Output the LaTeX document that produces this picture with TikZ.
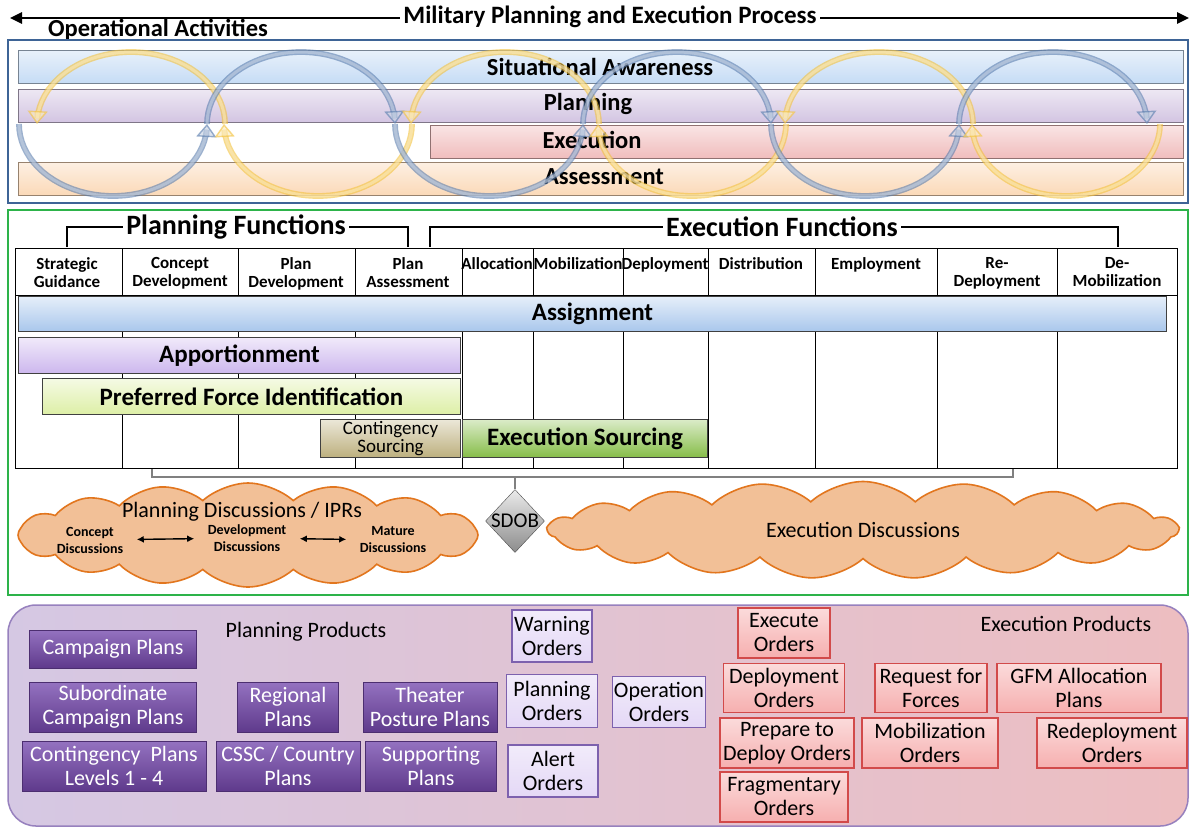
\documentclass[tikz,border=0pt]{standalone}
\usepackage{fontspec}
\setmainfont{Carlito}
\usetikzlibrary{shapes.geometric,shapes.symbols,arrows.meta}

\definecolor{boxblue}{HTML}{3E6496}
\definecolor{framegreen}{HTML}{2DB34A}
\definecolor{arcblue}{HTML}{5A7DAE}
\definecolor{arcyellow}{HTML}{F3C23C}
\definecolor{sacol}{HTML}{C6DCF5}
\definecolor{plcol}{HTML}{D3C5E2}
\definecolor{excol}{HTML}{F0BDBD}
\definecolor{ascol}{HTML}{FBD9B8}
\definecolor{asgcol}{HTML}{A9C7EC}
\definecolor{appcol}{HTML}{CDB7EE}
\definecolor{pficol}{HTML}{DDEFA6}
\definecolor{csrccol}{HTML}{BDB07E}
\definecolor{esrccol}{HTML}{86BD48}
\definecolor{cloudfill}{HTML}{F2C097}
\definecolor{cloudline}{HTML}{E2761E}
\definecolor{planlight}{HTML}{9472C0}
\definecolor{plandark}{HTML}{5F3A8C}
\definecolor{orderlight}{HTML}{E4D8F6}
\definecolor{orderline}{HTML}{7D61AE}
\definecolor{execpink}{HTML}{F6AFAF}
\definecolor{execline}{HTML}{D24A4A}

\tikzset{
  bartxt/.style={font=\bfseries\fontsize{24.5}{26}\selectfont},
  actbar/.style={draw=#1!60!black, top color=#1!40, bottom color=#1, minimum height=33pt, inner sep=0pt, anchor=north west},
  arcflow/.style={draw=#1, double=#1!35, double distance=3pt, line width=1.4pt, opacity=.6, -{Triangle[open, width=20pt, length=13pt, line width=1.4pt, fill=#1!35]}},
  fnhead/.style={font=\bfseries\fontsize{28}{30}\selectfont},
  colhead/.style={font=\bfseries\fontsize{17}{18}\selectfont, align=center, anchor=north, inner sep=0pt},
  fnbar/.style={draw=black!75, line width=1pt, top color=#1!30, bottom color=#1, inner sep=0pt, anchor=north west, font=\bfseries\fontsize{25}{27}\selectfont},
  puff/.style={cloud, cloud puffs=#1, cloud puff arc=85, cloud ignores aspect, draw=cloudline, fill=cloudfill, line width=1.6pt, font=\fontsize{22}{24}\selectfont},
  disc/.style={font=\bfseries\fontsize{14}{17}\selectfont, align=center},
  planprod/.style={draw=plandark!80!black, top color=planlight, bottom color=plandark, text=white, font=\fontsize{22}{24}\selectfont, align=center, inner sep=0pt},
  orderbox/.style={draw=orderline, line width=1.2pt, top color=orderlight!50, bottom color=orderlight, font=\fontsize{22}{24}\selectfont, align=center, inner sep=0pt},
  execbox/.style={draw=execline, line width=1.2pt, top color=execpink!45, bottom color=execpink, font=\fontsize{22}{24}\selectfont, align=center, inner sep=0pt},
  prodlabel/.style={font=\fontsize{22}{24}\selectfont}
}

\begin{document}
\begin{tikzpicture}[x=1pt,y=-1pt]
  \fill[white] (0,0) rectangle (1190,827);
  \useasboundingbox (0,0) rectangle (1190,827);

  % process arrow
  \node[font=\bfseries\fontsize{25}{27}\selectfont] at (610,17) (mpep) {Military Planning and Execution Process};
  \coordinate (mpepL) at (10,18);
  \coordinate (mpepR) at (1189,18);
  \draw[line width=2.5pt, -{Triangle[length=12pt,width=11pt]}] (mpep.west |- mpepL) -- (mpepL);
  \draw[line width=2.5pt, -{Triangle[length=12pt,width=11pt]}] (mpep.east |- mpepR) -- (mpepR);
  \node[font=\bfseries\fontsize{24.5}{26}\selectfont] at (158,30) (opact) {Operational Activities};

  % operational activities
  \draw[boxblue, line width=2pt] (8,40) rectangle (1188,203);
  \node[actbar=sacol, minimum width=1165pt] at (18,50) (sabar) {};
  \node[actbar=plcol, minimum width=1165pt] at (18,89) (plbar) {};
  \node[actbar=excol, minimum width=753pt] at (430,125) (exbar) {};
  \node[actbar=ascol, minimum width=1165pt] at (18,162) (asbar) {};
  \node[bartxt] at (600,67) (satxt) {Situational Awareness};
  \node[bartxt] at (588,104) (pltxt) {Planning};
  \node[bartxt] at (592,140) (extxt) {Execution};
  \node[bartxt] at (604,177) (astxt) {Assessment};
  \foreach \i in {0,...,5} {
    \pgfmathsetmacro{\s}{ifthenelse(mod(\i,2)==0,1,-1)}
    \draw[arcflow=arcblue] plot[domain=0:180, samples=40, variable=\t] ({113+188*\i-94*cos(\t)}, {124+\s*72*sin(\t)});
    \draw[arcflow=arcyellow] plot[domain=0:180, samples=40, variable=\t] ({131+187*\i+94*cos(\t)}, {124-\s*72*sin(\t)});
  }

  % functions
  \draw[framegreen, line width=2pt] (8,210) rectangle (1188,595);
  \node[fnhead] at (236,227) (planfn) {Planning Functions};
  \node[fnhead] at (782,227) (execfn) {Execution Functions};
  \coordinate (planfnL) at (67,247);
  \coordinate (planfnR) at (408,247);
  \coordinate (execfnL) at (430,247);
  \coordinate (execfnR) at (1118,247);
  \draw[line width=2.5pt] (planfnL) |- (planfn.west);
  \draw[line width=2.5pt] (planfn.east) -| (planfnR);
  \draw[line width=2.5pt] (execfnL) |- (execfn.west);
  \draw[line width=2.5pt] (execfn.east) -| (execfnR);

  \draw[line width=1pt] (15,248) rectangle (1177,468);
  \draw[line width=1pt] (15,295) -- (1177,295);
  \foreach \x in {122,238,355,462,533,623,708,815,937,1057} \draw[line width=1pt] (\x,248) -- (\x,468);
  \foreach \x/\t/\n in {67/{Strategic\\Guidance}/sg, 180/{Concept\\Development}/cd, 296/{Plan\\Development}/pd, 408/{Plan\\Assessment}/pa,
    497/Allocation/alc, 578/Mobilization/mob, 665/Deployment/dep, 761/Distribution/dis, 876/Employment/emp,
    997/{Re-\\Deployment}/rdep, 1117/{De-\\Mobilization}/dmob}
    \node[colhead] at (\x,257) (\n) {\t};

  \node[fnbar=asgcol, minimum width=1148pt, minimum height=35pt] at (18,296) (assign) {Assignment};
  \node[fnbar=appcol, minimum width=442pt, minimum height=36pt] at (18,337) (apport) {Apportionment};
  \node[fnbar=pficol, minimum width=418pt, minimum height=36pt] at (42,378) (pfi) {Preferred Force Identification};
  \node[fnbar=csrccol, minimum width=140pt, minimum height=38pt, font=\fontsize{19}{14}\selectfont, align=center] at (320,419) (csrc) {Contingency\\Sourcing};
  \node[fnbar=esrccol, minimum width=245pt, minimum height=38pt] at (462,419) (esrc) {Execution Sourcing};

  % discussions
  \coordinate (sdobL) at (152,469);
  \coordinate (sdobR) at (1013,469);
  \coordinate (sdobM) at (515,477);
  \draw[gray, line width=1.5pt] (sdobL) -- ++(0,8) -| (sdobR);
  \node[puff=16, minimum width=460pt, minimum height=104pt] at (248,535) (plancloud) {};
  \node[puff=19, minimum width=630pt, minimum height=97pt] at (863,530) (execcloud) {Execution Discussions};
  \node[diamond, draw=black!70, top color=black!8, bottom color=black!45, minimum width=59pt, minimum height=63pt, inner xsep=-6pt, inner ysep=-2pt, font=\fontsize{21}{22}\selectfont] at (515,521) (sdob) {SDOB};
  \draw[gray, line width=1.5pt] (sdobM) -- (sdob);
  \node[font=\fontsize{22}{24}\selectfont] at (242,512) (pdisc) {Planning Discussions / IPRs};
  \node[disc] at (90,540) (cdisc) {Concept\\Discussions};
  \node[disc] at (247,538) (ddisc) {Development\\Discussions};
  \node[disc] at (393,540) (mdisc) {Mature\\Discussions};
  \draw[line width=1.4pt, {Latex[length=7pt,width=7pt]}-{Latex[length=7pt,width=7pt]}, shorten <=10pt, shorten >=10pt] (cdisc) -- (ddisc);
  \draw[line width=1.4pt, {Latex[length=7pt,width=7pt]}-{Latex[length=7pt,width=7pt]}, shorten <=10pt, shorten >=10pt] (ddisc) -- (mdisc);

  % products
  \draw[rounded corners=28pt, left color=plcol!95!white, right color=excol!90!plcol, draw=orderline!80, line width=1.5pt] (8,605) rectangle (1188,826);
  \node[prodlabel] at (306,632) (planprodlbl) {Planning Products};
  \node[prodlabel] at (1066,624) (execprodlbl) {Execution Products};
  \foreach \x/\y/\w/\h/\n/\t in {113/649/167/38/camp/{Campaign Plans}, 113/707/167/50/subcamp/{Subordinate\\Campaign Plans},
    288/707/101/50/regional/{Regional\\Plans}, 430/707/134/50/theater/{Theater\\Posture Plans},
    114/766/184/50/contin/{Contingency~ Plans\\Levels 1 - 4}, 288/766/144/50/cssc/{CSSC / Country\\Plans},
    431/766/131/50/support/{Supporting\\Plans}}
    \node[planprod, minimum width=\w pt, minimum height=\h pt] at (\x,\y) (\n) {\t};
  \foreach \x/\y/\w/\h/\n/\t in {552/636/80/52/warnord/{Warning\\Orders}, 552/701/91/53/planord/{Planning\\Orders},
    553/771/90/52/alertord/{Alert\\Orders}, 659/702/93/51/opord/{Operation\\Orders}}
    \node[orderbox, minimum width=\w pt, minimum height=\h pt] at (\x,\y) (\n) {\t};
  \foreach \x/\y/\w/\h/\n/\t in {784/633/92/50/exord/{Execute\\Orders}, 784/688/121/49/deplord/{Deployment\\Orders},
    787/743/134/50/ptdo/{Prepare to\\Deploy Orders}, 784/797/128/50/fragord/{Fragmentary\\Orders},
    931/688/112/49/rff/{Request for\\Forces}, 930/743/136/50/mobord/{Mobilization\\Orders},
    1079/688/164/49/gfm/{GFM Allocation\\Plans}, 1112/743/150/50/redord/{Redeployment\\Orders}}
    \node[execbox, minimum width=\w pt, minimum height=\h pt] at (\x,\y) (\n) {\t};
\end{tikzpicture}
\end{document}
